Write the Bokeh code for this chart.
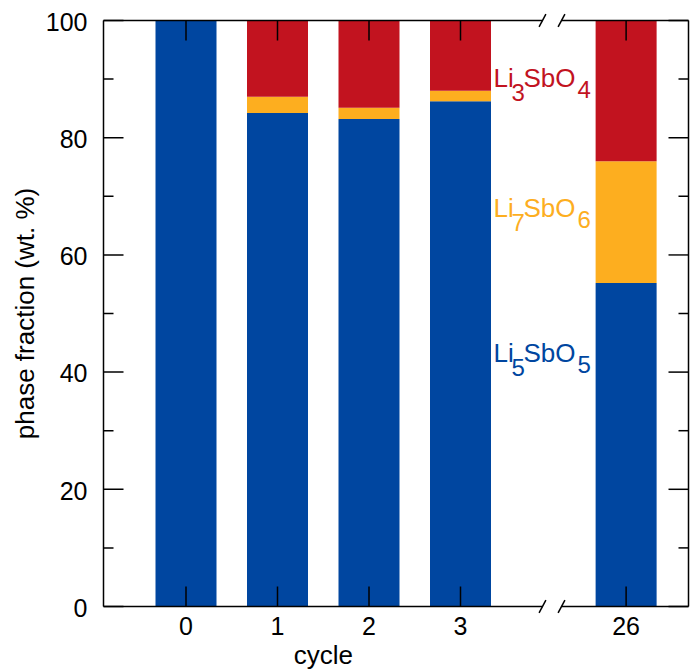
import numpy as np
from bokeh.plotting import figure
from bokeh.models import Range1d, ColumnDataSource
from bokeh.embed import file_html
from bokeh.resources import INLINE
from bokeh.core.properties import value

# ---------------- data ----------------
cycles = ["0", "1", "2", "3", "26"]
li5sbo5 = [100.0, 84.2, 83.2, 86.2, 55.2]
li7sbo6 = [0.0, 2.8, 1.9, 1.8, 20.8]
li3sbo4 = [0.0, 13.0, 14.9, 12.0, 24.0]
y_major = [0, 20, 40, 60, 80, 100]
y_minor = [10, 30, 50, 70, 90]
y_label = "phase fraction (wt. %)"
x_label = "cycle"

BLUE, ORANGE, RED = "#0046a0", "#fdae1f", "#c2131f"
FONT = "Liberation Sans"

# ---------------- layout constants (pixels) ----------------
W, H = 690, 670
BL, BR, BT, BB = 103, 688, 20, 606      # drawn box
X_PPU = 91.5                            # px per category slot
X0 = 185.5                              # px of first category
Y_PPU = (BB - BT) / 100.0
BASE_CORR = -0.31                       # baseline correction (em)

gap_pos = 4.81                          # slot for cycle 26 after the axis break
xpos = [0, 1, 2, 3, gap_pos]
bar_w = 61 / X_PPU

def dx(px):
    return (px - X0) / X_PPU

def dy(px):
    return (BB - px) / Y_PPU

xl, xr = dx(BL), dx(BR)

p = figure(width=W, height=H, output_backend="svg", toolbar_location=None,
           x_range=Range1d(dx(0), dx(W)), y_range=Range1d(dy(H), dy(0)),
           x_axis_location=None, y_axis_location=None,
           min_border=0)
p.outline_line_color = None
p.grid.visible = False
p.background_fill_color = "white"
p.border_fill_color = "white"

# ---------------- bars ----------------
src = ColumnDataSource(dict(x=xpos, li5=li5sbo5, li7=li7sbo6, li3=li3sbo4))
p.vbar_stack(["li5", "li7", "li3"], x="x", width=bar_w, color=[BLUE, ORANGE, RED],
             line_color=None, source=src)

# ---------------- frame with axis break ----------------
brk_c, brk_h = 4.0, 0.104
lw = 1.5
p.segment(x0=[xl, xr, xl, brk_c + brk_h, xl, brk_c + brk_h],
          y0=[0, 0, 0, 0, 100, 100],
          x1=[xl, xr, brk_c - brk_h, xr, brk_c - brk_h, xr],
          y1=[100, 100, 0, 0, 100, 100], line_color="black", line_width=lw)

maj_len, min_len = 20 / X_PPU, 10 / X_PPU
ys = y_major + y_minor
lens = [maj_len] * len(y_major) + [min_len] * len(y_minor)
p.segment(x0=[xl] * len(ys), y0=ys, x1=[xl + l for l in lens], y1=ys,
          line_color="black", line_width=lw)
p.segment(x0=[xr] * len(ys), y0=ys, x1=[xr - l for l in lens], y1=ys,
          line_color="black", line_width=lw)
tl = 20 / Y_PPU
p.segment(x0=xpos, y0=[0] * 5, x1=xpos, y1=[tl] * 5, line_color="black", line_width=lw)
p.segment(x0=xpos, y0=[100] * 5, x1=xpos, y1=[100 - tl] * 5, line_color="black", line_width=lw)

sdx, sdy = 3.4 / X_PPU, 6.3 / Y_PPU
sx, sy0, sx1, sy1 = [], [], [], []
for yb in (0, 100):
    for c in (brk_c - brk_h, brk_c + brk_h):
        sx.append(c - sdx); sy0.append(yb - sdy); sx1.append(c + sdx); sy1.append(yb + sdy)
p.segment(x0=sx, y0=sy0, x1=sx1, y1=sy1, line_color="black", line_width=lw)

# ---------------- tick labels & axis titles ----------------
# y tick labels (right aligned)
p.text(x=[dx(87)] * len(y_major),
       y=[v - (9.0 + BASE_CORR * 25) / Y_PPU for v in y_major],
       text=[str(v) for v in y_major], text_font=value(FONT), text_font_size="25px",
       text_color="black", text_align="right", text_baseline="alphabetic")
# x tick labels
p.text(x=xpos, y=[dy(633.3 + BASE_CORR * 25)] * len(xpos), text=cycles,
       text_font=value(FONT), text_font_size="25px", text_color="black",
       text_align="center", text_baseline="alphabetic")
# x axis title (centred over cycles 0-3)
p.text(x=[(xpos[0] + xpos[3]) / 2], y=[dy(663 + BASE_CORR * 26)], text=[x_label],
       text_font=value(FONT), text_font_size="26px", text_color="black",
       text_align="center", text_baseline="alphabetic")
# y axis title (rotated)
p.text(x=[dx(33 + BASE_CORR * 26)], y=[dy((BT + BB) / 2)], text=[y_label],
       text_font=value(FONT), text_font_size="26px", text_color="black",
       text_align="center", text_baseline="alphabetic", angle=np.pi / 2)

# ---------------- formula labels ----------------
def formula(parts, base_px, color, x_px=493):
    for t, off, size, drop in parts:
        s = int(size.replace("px", ""))
        p.text(x=[dx(x_px + off)], y=[dy(base_px + drop + BASE_CORR * s)], text=[t],
               text_font=value(FONT), text_font_size=size, text_color=color,
               text_align="left", text_baseline="alphabetic")

formula([("Li", 0, "26px", 0), ("3", 18, "24px", 13.3), ("SbO", 30, "26px", 0), ("4", 84, "24px", 10.7)], 86, RED)
formula([("Li", 0, "26px", 0), ("7", 18, "24px", 13.3), ("SbO", 30, "26px", 0), ("6", 84, "24px", 10.7)], 216, ORANGE)
formula([("Li", 0, "26px", 0), ("5", 18, "24px", 13.3), ("SbO", 30, "26px", 0), ("5", 84, "24px", 10.7)], 361, BLUE)

open("out.html", "w").write(file_html(p, INLINE))
